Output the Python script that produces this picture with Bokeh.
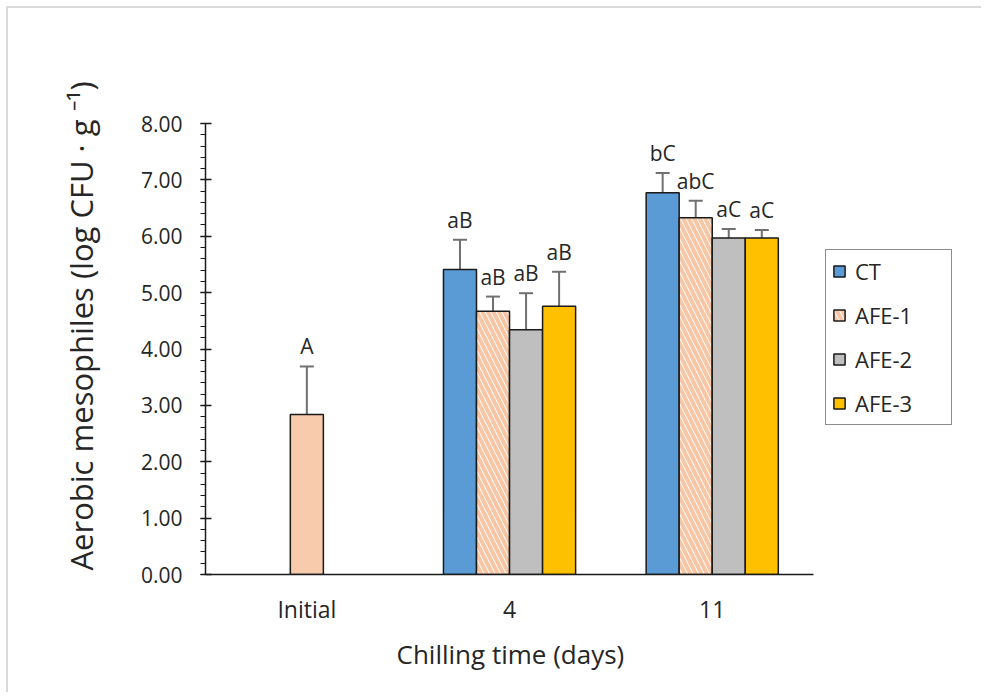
from bokeh.plotting import figure
from bokeh.models import (ColumnDataSource, Whisker, TeeHead, Legend, LegendItem,
                          SingleIntervalTicker, FixedTicker, Range1d, Title)
from bokeh.core.properties import value
from bokeh.embed import file_html
from bokeh.resources import INLINE

# ---- data ----
categories = ["Initial", "4", "11"]
series = ["CT", "AFE-1", "AFE-2", "AFE-3"]

initial_mean = [2.84]
initial_err = [0.85]
initial_label = ["A"]

# values for days 4 and 11
ct_mean = [5.41, 6.77]
ct_err = [0.53, 0.35]
ct_label = ["aB", "bC"]

afe1_mean = [4.67, 6.33]
afe1_err = [0.26, 0.30]
afe1_label = ["aB", "abC"]

afe2_mean = [4.34, 5.97]
afe2_err = [0.65, 0.16]
afe2_label = ["aB", "aC"]

afe3_mean = [4.76, 5.97]
afe3_err = [0.61, 0.14]
afe3_label = ["aB", "aC"]

y_ticks = [0, 1, 2, 3, 4, 5, 6, 7, 8]

x_title = "Chilling time (days)"
y_title = "Aerobic mesophiles (log CFU \u00b7 g \u207b\u00b9)"

FONT = "Open Sans"
TXT = "#262626"
BW = 0.163
NCAT = len(categories)
XMAX = 3.715  # extra room on the right for the legend

p = figure(width=975, height=686, output_backend="svg", toolbar_location=None,
           x_range=Range1d(0, XMAX), y_range=Range1d(0, 8),
           min_border_left=197, min_border_right=25,
           min_border_top=115, min_border_bottom=120)
p.outline_line_color = None
p.xgrid.grid_line_color = None
p.ygrid.grid_line_color = None
p.styles = {"border-top": "2px solid #dadada", "border-left": "2px solid #dadada",
            "margin-left": "6px", "margin-top": "6px"}

styles = [
    dict(fill_color="#5B9BD5"),
    dict(fill_color="white", hatch_pattern="\\", hatch_color="#F8C6A4",
         hatch_weight=4, hatch_scale=11),
    dict(fill_color="#BFBFBF"),
    dict(fill_color="#FFC000"),
]
means = [ct_mean, afe1_mean, afe2_mean, afe3_mean]
errs = [ct_err, afe1_err, afe2_err, afe3_err]
labels = [ct_label, afe1_label, afe2_label, afe3_label]

def add_series(xs, m, e, lab, style):
    src = ColumnDataSource(dict(x=xs, top=m, upper=[a + b for a, b in zip(m, e)],
                                lower=[a - b for a, b in zip(m, e)], lab=lab))
    r = p.vbar(x="x", top="top", bottom=0, width=BW, source=src,
               line_color="#1a1a1a", line_width=1.5, **style)
    w = Whisker(base="x", upper="upper", lower="lower", source=src,
                line_color="#707070", line_width=2,
                upper_head=TeeHead(size=14, line_color="#707070", line_width=2),
                lower_head=TeeHead(size=14, line_color="#707070", line_width=2))
    p.add_layout(w)
    p.text(x="x", y="upper", text="lab", source=src, text_align="center",
           text_baseline="bottom", y_offset=-6, text_font=value(FONT),
           text_font_size="21px", text_color=TXT)
    return r

# initial bar
add_series([0.5], initial_mean, initial_err, initial_label, dict(fill_color="#F8CBAD"))

items = []
for k, name in enumerate(series):
    off = (k - 1.5) * BW
    xs = [1 + 0.5 + off, 2 + 0.5 + off]
    r = add_series(xs, means[k], errs[k], labels[k], styles[k])
    items.append(LegendItem(label=name, renderers=[r]))

legend = Legend(items=items, location=(620, 149), label_text_font=FONT,
                label_text_font_size="22px", label_text_color=TXT,
                border_line_color="#1a1a1a", border_line_width=1.5,
                glyph_width=14, glyph_height=14, spacing=14, padding=6,
                margin=0, label_standoff=9, label_height=24, label_width=90,
                background_fill_alpha=1)
p.add_layout(legend)

# axes
xa = p.xaxis[0]
xa.bounds = (0, NCAT)
xa.ticker = FixedTicker(ticks=[0.5, 1.5, 2.5])
xa.major_label_overrides = {0.5: categories[0], 1.5: categories[1], 2.5: categories[2]}
xa.major_tick_out = 0
xa.major_tick_in = 0
xa.minor_tick_out = 0
xa.minor_tick_in = 0
xa.axis_line_color = "#1a1a1a"
xa.axis_line_width = 1.5
xa.major_label_text_font = FONT
xa.major_label_text_font_size = "23px"
xa.major_label_text_color = TXT
xa.major_label_standoff = 18

ya = p.yaxis[0]
ya.ticker = SingleIntervalTicker(interval=1, num_minor_ticks=5)
ya.major_label_overrides = {t: f"{t:.2f}" for t in y_ticks}
ya.major_tick_out = 5
ya.major_tick_in = 6
ya.minor_tick_out = 5
ya.minor_tick_in = 0
ya.axis_line_color = "#1a1a1a"
ya.axis_line_width = 1.5
ya.major_tick_line_color = "#1a1a1a"
ya.minor_tick_line_color = "#1a1a1a"
ya.major_tick_line_width = 1.5
ya.major_label_text_font = FONT
ya.major_label_text_font_size = "21px"
ya.major_label_text_color = TXT
ya.major_label_standoff = 18

p.add_layout(Title(text=x_title, align="left", offset=191, text_font=FONT,
                   text_font_size="26px", text_font_style="normal",
                   text_color=TXT, standoff=12), "below")
p.add_layout(Title(text=y_title, align="left", offset=4, text_font=FONT,
                   text_font_size="31px", text_font_style="normal",
                   text_color=TXT, standoff=72), "left")

open("out.html", "w").write(file_html(p, INLINE))
